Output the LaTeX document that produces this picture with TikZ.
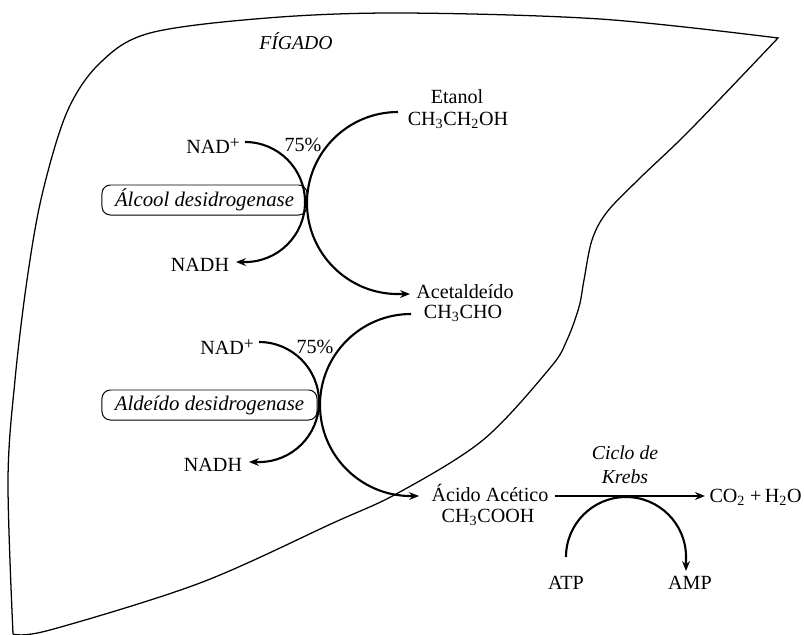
\documentclass[tikz,border=0pt]{standalone}
\usepackage{fontspec}
\setmainfont{Liberation Serif}
\usetikzlibrary{arrows.meta}
\newcommand{\plussup}{\raisebox{0.55ex}{\fontsize{12.5}{13}\selectfont +}}
\begin{document}
\begin{tikzpicture}[x=0.025cm,y=-0.025cm,
  lbl/.style={font=\fontsize{14.3}{16}\selectfont, inner sep=0pt},
  ilbl/.style={font=\fontsize{14}{16}\selectfont\itshape, inner sep=0pt},
  enz/.style={draw, line width=0.7pt, rounded corners=6pt, inner sep=0pt,
    font=\fontsize{14.8}{16}\selectfont\itshape, minimum height=0.75cm},
  rxn/.style={line width=1.5pt, -{Stealth[length=7pt,width=5.5pt]}},
  organ/.style={line width=0.9pt}]
\useasboundingbox (0,0) rectangle (804,634);

% liver outline
\draw[organ] plot[smooth, tension=0.55] coordinates {(13,634) (8,480) (15,380) (27,280) (42,195) (67,112) (100,63) (150,33) (267,18) (400,13) (600,19) (778,38)}
  -- plot[smooth, tension=0.55] coordinates {(778,38) (690,130) (640,178) (607,212) (592,240) (584,280) (579,307) (567,340) (550,368) (483,440) (398,493) (333,523) (200,583) (50,630) (13,634)};

% labels
\node[ilbl] (fig) at (296,41) {FÍGADO};
\node[lbl] (etanol) at (457,97) {Etanol};
\node[lbl] (etf) at (458,120) {CH\textsubscript{3}CH\textsubscript{2}OH};
\node[lbl] (nad1) at (213,146) {NAD\plussup};
\node[lbl] (p1) at (303,145) {75\%};
\node[enz, minimum width=5.125cm] (adh) at (204.5,200) {Álcool desidrogenase};
\node[lbl] (nadh1) at (200,265) {NADH};
\node[lbl] (acet) at (465,292) {Acetaldeído};
\node[lbl] (acf) at (463,313) {CH\textsubscript{3}CHO};
\node[lbl] (nad2) at (227,347) {NAD\plussup};
\node[lbl] (p2) at (315,347) {75\%};
\node[enz, minimum width=5.375cm] (aldh) at (209.5,405) {Aldeído desidrogenase};
\node[lbl] (nadh2) at (213,465) {NADH};
\node[lbl] (acid) at (490,493) {Ácido Acético};
\node[lbl] (acidf) at (488,517) {CH\textsubscript{3}COOH};
\node[ilbl] (ciclo) at (625,453) {Ciclo de};
\node[ilbl] (krebs) at (625,477) {Krebs};
\node[lbl, anchor=east] (co2) at (802,497) {CO\textsubscript{2}\ +\,H\textsubscript{2}O};
\node[lbl] (atp) at (566,583) {ATP};
\node[lbl] (amp) at (690,583) {AMP};

% connector end points
\coordinate (a1s) at (398,112);
\coordinate (a1e) at (410,294);
\coordinate (n1s) at (245,142);
\coordinate (n1e) at (236,262);
\coordinate (a2s) at (411,314);
\coordinate (a2e) at (419,496);
\coordinate (n2s) at (259,342);
\coordinate (n2e) at (249,462);
\coordinate (k1) at (555,496);
\coordinate (k2) at (705,496);
\coordinate (t1) at (566,557);
\coordinate (t2) at (686,571);

% reactions
\draw[rxn] (a1s) arc[start angle=90, end angle=270, radius=2.275cm] -- (a1e);
\draw[rxn] (n1s) arc[start angle=90, end angle=-90, radius=1.5cm] -- (n1e);
\draw[rxn] (a2s) arc[start angle=90, end angle=270, radius=2.275cm] -- (a2e);
\draw[rxn] (n2s) arc[start angle=90, end angle=-90, radius=1.5cm] -- (n2e);
\draw[rxn] (k1) -- (k2);
\draw[rxn] (t1) arc[start angle=180, end angle=0, radius=1.5cm] -- (t2);
\end{tikzpicture}
\end{document}
